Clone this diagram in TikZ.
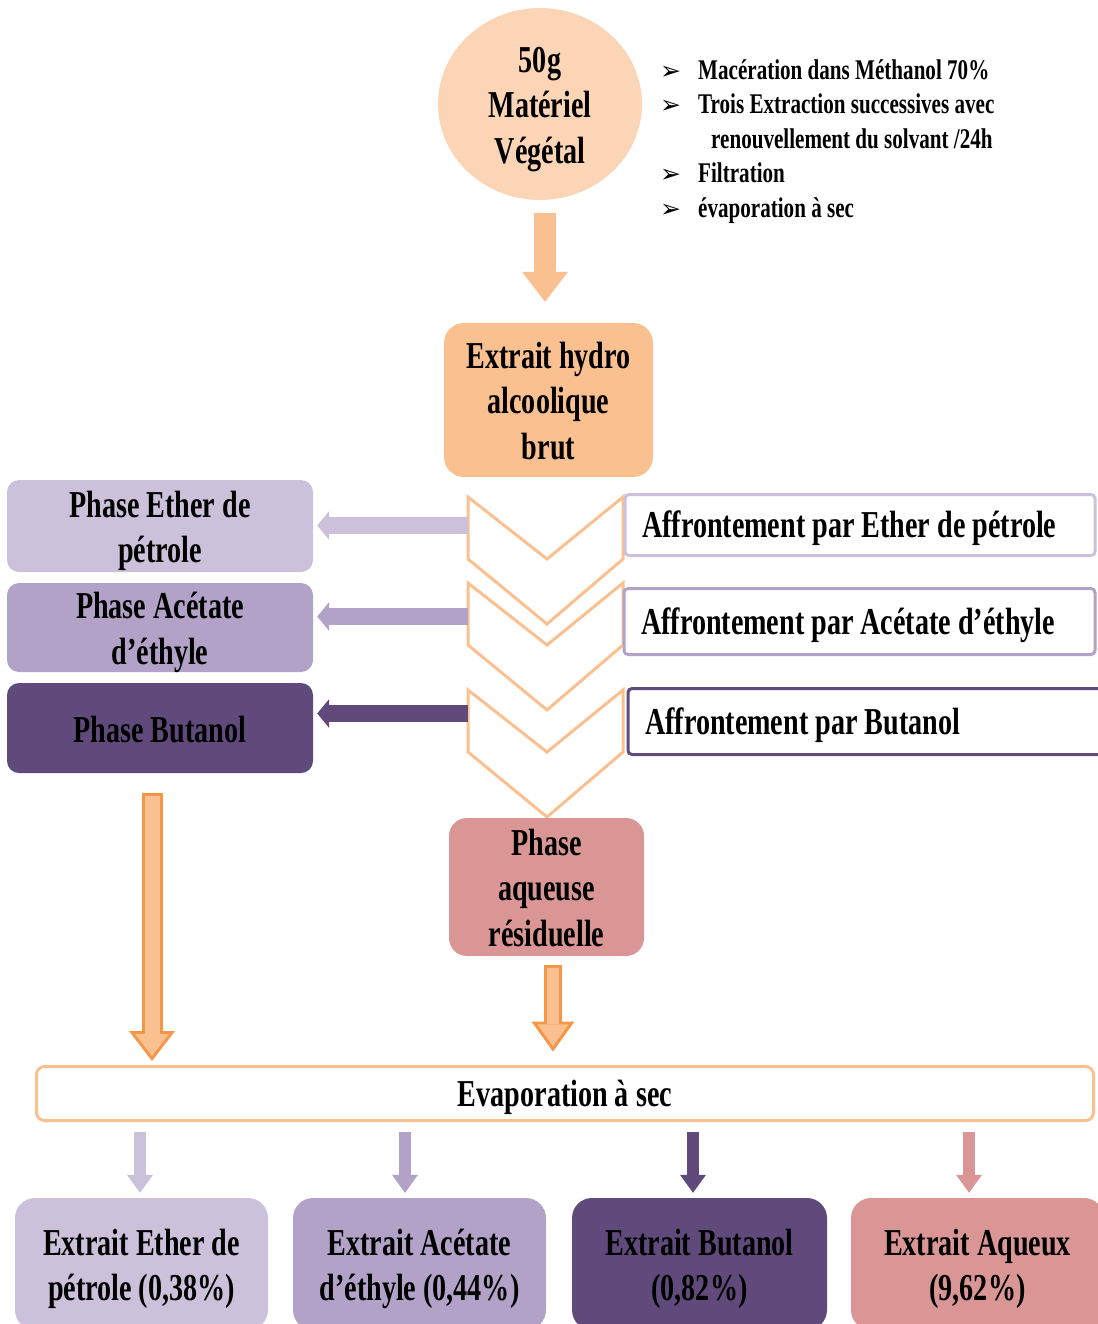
\documentclass[tikz,border=0pt]{standalone}
\usepackage{fontspec}
\setmainfont{Liberation Serif}[FakeStretch=0.74]
\newfontfamily\dingfont{DejaVu Sans}
\usetikzlibrary{shapes.geometric,arrows.meta}
\definecolor{peachlight}{HTML}{FBD5B5}
\definecolor{peach}{HTML}{FAC090}
\definecolor{orangeline}{HTML}{F79646}
\definecolor{lavlight}{HTML}{CCC1DA}
\definecolor{lavmid}{HTML}{B3A2C7}
\definecolor{lavdark}{HTML}{604A7B}
\definecolor{rose}{HTML}{D99694}
\newcommand\arrowbullet{\makebox[38pt][l]{\dingfont\fontsize{25}{25}\selectfont ➢}}
\newcommand\stacklines[1]{\begin{tabular}{@{}c@{}}\rule{0pt}{41pt}#1\end{tabular}}

\begin{document}
\begin{tikzpicture}[x=1pt,y=-1pt,
    every node/.style={inner sep=0pt, align=center, font=\fontsize{38}{45.5}\selectfont\bfseries,
      execute at begin node={\rule{0pt}{34pt}}, execute at end node={\rule[-6pt]{0pt}{6pt}}},
    stacked/.style={text height=13pt, text depth=0pt},
    plant/.style={ellipse, fill=peachlight, minimum width=204pt, minimum height=192pt, stacked},
    phasebox/.style={fill=#1, rounded corners=12pt, minimum width=306pt},
    affbox/.style={draw=#1, line width=3pt, fill=white, rounded corners=4pt, anchor=west, inner xsep=17pt},
    extbox/.style={fill=#1, rounded corners=20pt, minimum width=253pt, minimum height=132pt, stacked},
    chevron/.style={draw=peach, line width=3pt},
    fatarrow/.style={draw=peach, line width=22pt, -{Triangle[width=46pt,length=30pt,line width=0pt]}},
    rimarrow/.style n args={3}{draw=orangeline, line width=#1, -{Triangle[width=#2,length=#3,line width=0pt]}},
    corearrow/.style n args={3}{draw=peach, line width=#1, -{Triangle[width=#2,length=#3,line width=0pt]}},
    sidearrow/.style={draw=#1, line width=17pt, -{Triangle[width=29pt,length=12pt,line width=0pt]}, shorten >=4pt},
    droparrow/.style={draw=#1, line width=12pt, -{Triangle[width=26pt,length=18pt,line width=0pt]}, shorten <=9.5pt, shorten >=5pt}]
  \useasboundingbox (0,0) rectangle (1097,1324);

  % source and protocol
  \node[plant] (mat) at (540,104) {\stacklines{50g\\Matériel\\Végétal}};
  \node[anchor=north west, align=left, font=\fontsize{28.5}{34.5}\selectfont\bfseries,
    execute at begin node={}, execute at end node={}] (steps) at (660,59)
    {\arrowbullet Macération dans Méthanol 70\%\\
     \arrowbullet Trois Extraction successives avec\\
     \hspace*{51pt}renouvellement du solvant /24h\\
     \arrowbullet Filtration\\
     \arrowbullet évaporation à sec};
  \node[fill=peach, rounded corners=20pt, minimum width=209pt, minimum height=154pt, stacked] (hydro) at (548.5,400) {\stacklines{Extrait hydro\\alcoolique\\brut}};
  \draw[fatarrow, shorten <=13pt, shorten >=21pt] ([xshift=5pt]mat.south) -- ([xshift=-3.5pt]hydro.north);

  % liquid-liquid steps
  \foreach \t in {497,583,690}
    \draw[chevron] (468,\t) -- (547,\t+62) -- (623,\t) -- (623,\t+62) -- (547,\t+127) -- (468,\t+62) -- cycle;
  \node[affbox=lavlight, minimum height=61pt] (aff1) at (623.5,525) {\makebox[436pt][l]{Affrontement par Ether de pétrole}};
  \node[affbox=lavmid, minimum height=66pt] (aff2) at (622.5,621.5) {\makebox[437pt][l]{Affrontement par Acétate d’éthyle}};
  \node[affbox=lavdark, minimum height=66pt] (aff3) at (626.5,721.5) {\makebox[450pt][l]{Affrontement par Butanol}};

  \node[phasebox=lavlight, minimum height=92pt, stacked] (pe) at (160,526) {\stacklines{Phase Ether de\\pétrole}};
  \node[phasebox=lavmid, minimum height=89pt, stacked] (pa) at (160,627.5) {\stacklines{Phase Acétate\\d’éthyle}};
  \node[phasebox=lavdark, minimum height=90pt] (pb) at (160,728) {Phase Butanol};

  \coordinate (c1) at (468,525.5);
  \coordinate (c2) at (468,616.5);
  \coordinate (c3) at (468,713.5);
  \draw[sidearrow=lavlight] (c1) -- (c1 -| pe.east);
  \draw[sidearrow=lavmid] (c2) -- (c2 -| pa.east);
  \draw[sidearrow=lavdark] (c3) -- (c3 -| pb.east);

  \node[fill=rose, rounded corners=18pt, minimum width=195pt, minimum height=138pt, stacked] (aq) at (546.5,887) {\stacklines{Phase\\aqueuse\\résiduelle}};

  % evaporation
  \node[draw=peach, line width=3pt, rounded corners=8pt, minimum width=1057pt, minimum height=54pt] (evap) at (565,1093.5) {Evaporation à sec};
  \draw[rimarrow={21pt}{46pt}{30pt}, shorten <=20pt, shorten >=4pt] ([xshift=-8pt]pb.south) -- ([xshift=-8pt]pb.south |- evap.north);
  \draw[corearrow={15pt}{34pt}{22pt}, shorten <=23pt, shorten >=9pt] ([xshift=-8pt]pb.south) -- ([xshift=-8pt]pb.south |- evap.north);
  \draw[rimarrow={18pt}{43pt}{30pt}, shorten <=9pt, shorten >=13.5pt] ([xshift=6.5pt]aq.south) -- ([xshift=6.5pt]aq.south |- evap.north);
  \draw[corearrow={12pt}{31pt}{22pt}, shorten <=12pt, shorten >=18.7pt] ([xshift=6.5pt]aq.south) -- ([xshift=6.5pt]aq.south |- evap.north);

  % extracts
  \node[extbox=lavlight] (ext1) at (141.5,1264) {\stacklines{Extrait Ether de\\pétrole (0,38\%)}};
  \node[extbox=lavmid] (ext2) at (419.5,1264) {\stacklines{Extrait Acétate\\d’éthyle (0,44\%)}};
  \node[extbox=lavdark, minimum width=255pt] (ext3) at (699.5,1264) {\stacklines{Extrait Butanol\\(0,82\%)}};
  \node[extbox=rose] (ext4) at (977.5,1264) {\stacklines{Extrait Aqueux\\(9,62\%)}};
  \draw[droparrow=lavlight] ([xshift=-1.5pt]ext1.north |- evap.south) -- ([xshift=-1.5pt]ext1.north);
  \draw[droparrow=lavmid] ([xshift=-14.5pt]ext2.north |- evap.south) -- ([xshift=-14.5pt]ext2.north);
  \draw[droparrow=lavdark] ([xshift=-6.5pt]ext3.north |- evap.south) -- ([xshift=-6.5pt]ext3.north);
  \draw[droparrow=rose] ([xshift=-8.5pt]ext4.north |- evap.south) -- ([xshift=-8.5pt]ext4.north);
\end{tikzpicture}
\end{document}
